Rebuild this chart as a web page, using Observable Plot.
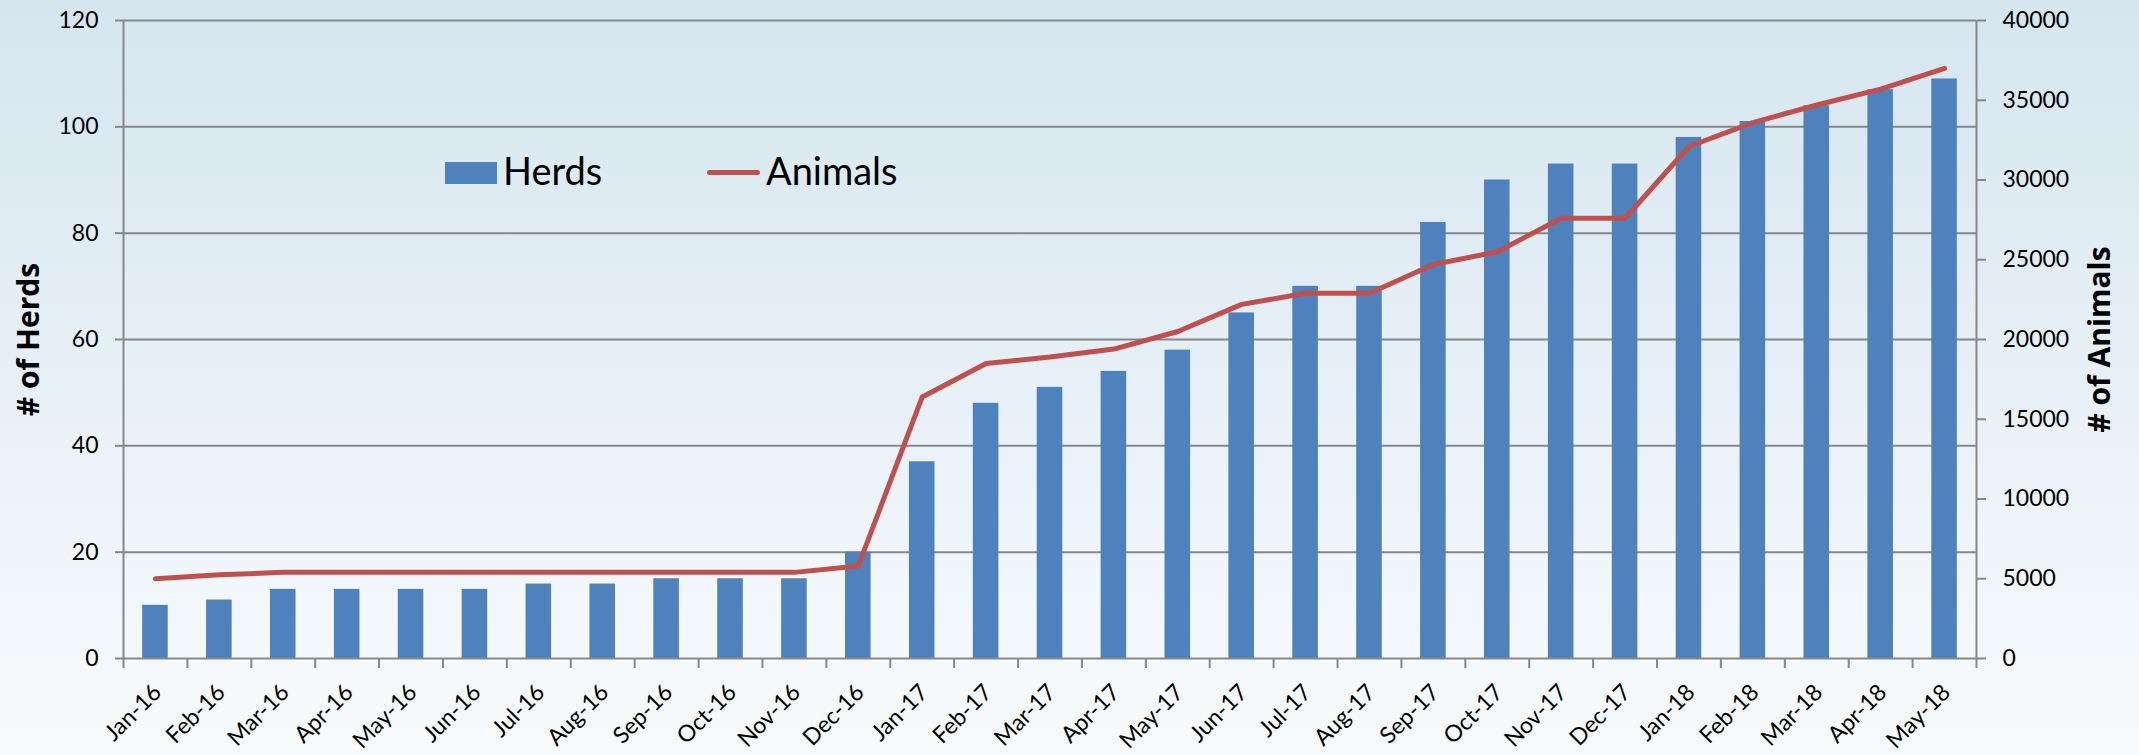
<!DOCTYPE html>
<html>
<head>
<meta charset="utf-8">
<script src="https://cdn.jsdelivr.net/npm/d3@7"></script>
<script src="https://cdn.jsdelivr.net/npm/@observablehq/plot@0.6"></script>
<style>
  html, body { margin: 0; padding: 0; }
  #wrap {
    position: relative; width: 2139px; height: 755px; overflow: hidden;
    background: linear-gradient(to bottom, #d5e6ef 0%, #e5eff6 45%, #f2f7fb 80%, #f8fbfd 100%);
    font-family: Lato, sans-serif;
  }
  #chart svg { display: block; }
  .leg { position: absolute; font-family: Lato, sans-serif; font-size: 38px; color: #000; line-height: 1; }
</style>
</head>
<body>
<div id="wrap">
  <div id="chart"></div>
  <div class="leg" style="left:445px;top:162px;width:52px;height:22px;background:#4f81bd;"></div>
  <div class="leg" style="left:503px;top:151px;">Herds</div>
  <div class="leg" style="left:707px;top:170px;width:53px;height:5px;background:#c0504d;border-radius:3px;"></div>
  <div class="leg" style="left:766px;top:151px;">Animals</div>
</div>
<script>
const categories = ["Jan-16","Feb-16","Mar-16","Apr-16","May-16","Jun-16","Jul-16","Aug-16","Sep-16","Oct-16","Nov-16","Dec-16",
  "Jan-17","Feb-17","Mar-17","Apr-17","May-17","Jun-17","Jul-17","Aug-17","Sep-17","Oct-17","Nov-17","Dec-17",
  "Jan-18","Feb-18","Mar-18","Apr-18","May-18"];
const herds = [10,11,13,13,13,13,14,14,15,15,15,20,37,48,51,54,58,65,70,70,82,90,93,93,98,101,104,107,109];
const animals = [5000,5250,5400,5400,5400,5400,5400,5400,5400,5400,5400,5800,16400,18500,18900,19400,20500,22200,22900,22900,24700,25500,27600,27600,32100,33600,34700,35700,37000];
const herdTicks = [0,20,40,60,80,100,120];
const animalTicks = [0,5000,10000,15000,20000,25000,30000,35000,40000];

const toLeft = v => v * 3 / 1000; // 40000 animals -> 120 on the herds scale
const data = categories.map((c, i) => ({i, c, herds: herds[i], animals: animals[i]}));
const gray = "#878787";

const chart = Plot.plot({
  width: 2139, height: 755,
  marginLeft: 123, marginRight: 163, marginTop: 20, marginBottom: 97,
  x: {type: "linear", domain: [-0.5, categories.length - 0.5], axis: null},
  y: {domain: [0, 120], axis: null},
  style: {background: "transparent", fontFamily: "Lato, sans-serif", color: "#000", overflow: "visible"},
  marks: [
    Plot.ruleY(herdTicks.filter(d => d > 0), {stroke: gray, strokeWidth: 2}),
    Plot.rectY(data, {x1: d => d.i - 0.2, x2: d => d.i + 0.2, y: "herds", fill: "#4f81bd"}),
    Plot.line(data, {x: "i", y: d => toLeft(d.animals), stroke: "#c0504d", strokeWidth: 5, strokeLinejoin: "round", strokeLinecap: "round"}),
    Plot.ruleY([0], {stroke: gray, strokeWidth: 2}),
    Plot.ruleX([-0.5, categories.length - 0.5], {y1: 0, y2: 120, stroke: gray, strokeWidth: 2}),
    Plot.axisY(herdTicks, {anchor: "left", tickSize: 8, tickPadding: 17, fontSize: 23, stroke: gray, strokeWidth: 2, fill: "#000", label: null}),
    Plot.axisY(animalTicks.map(toLeft), {anchor: "right", tickSize: 9, tickPadding: 17, fontSize: 23, stroke: gray, strokeWidth: 2, fill: "#000",
      tickFormat: d => String(Math.round(d * 1000 / 3)), label: null}),
    Plot.axisX(d3.range(categories.length + 1).map(i => i - 0.5), {anchor: "bottom", tickSize: 10, stroke: gray, strokeWidth: 2, tickFormat: () => "", label: null}),
    Plot.text(data, {x: "i", y: 0, text: "c", rotate: -45, textAnchor: "end", lineAnchor: "middle", dy: 30, dx: 2, fontSize: 23, fill: "#000"}),
    Plot.text(["# of Herds"], {frameAnchor: "left", dx: -94, rotate: -90, textAnchor: "middle", fontSize: 30, fontWeight: "bold", fontFamily: "Open Sans, sans-serif", fill: "#000"}),
    Plot.text(["# of Animals"], {frameAnchor: "right", dx: 124, rotate: -90, textAnchor: "middle", fontSize: 30, fontWeight: "bold", fontFamily: "Open Sans, sans-serif", fill: "#000"})
  ]
});
document.getElementById("chart").appendChild(chart);
</script>
</body>
</html>
